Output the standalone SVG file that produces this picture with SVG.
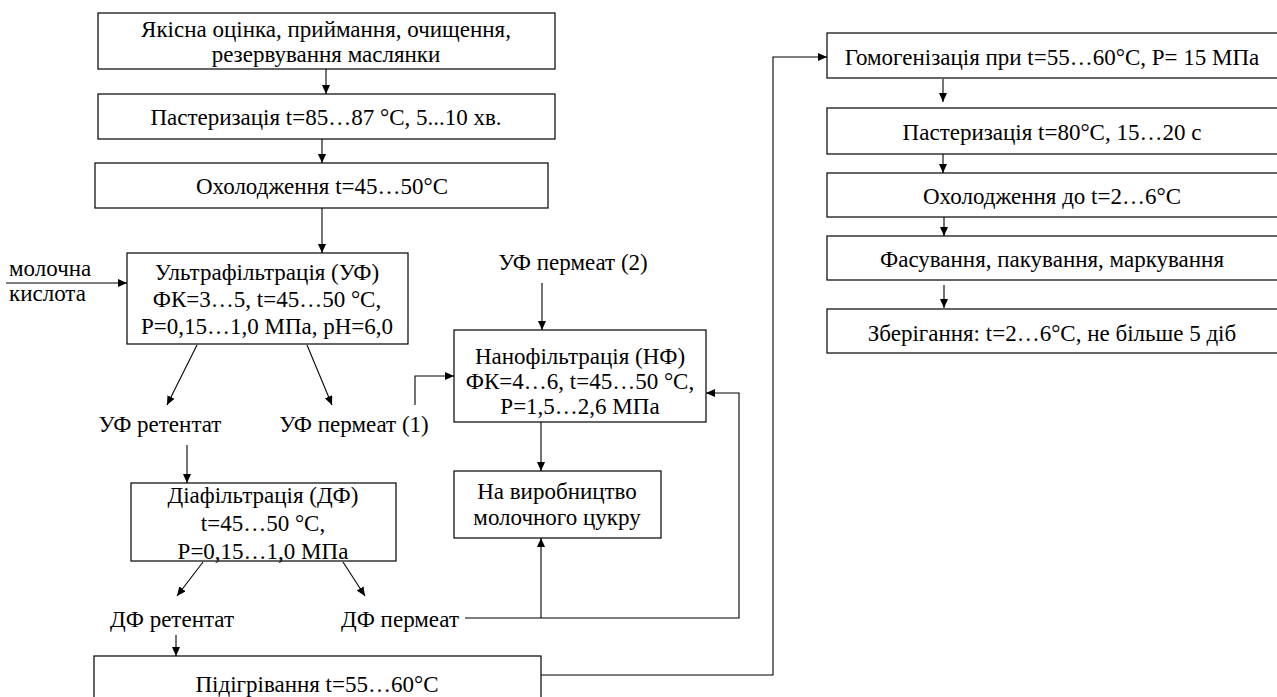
<svg xmlns="http://www.w3.org/2000/svg" width="1277" height="697" viewBox="0 0 1277 697" font-family="Times New Roman, Liberation Serif, serif">
<style>
.box{fill:#fff;stroke:#000;stroke-width:1.2}
text{font-family:"Times New Roman","Liberation Serif","Noto Serif","DejaVu Serif",serif;font-size:23px;fill:#000}
.c{text-anchor:middle}
.ln{fill:none;stroke:#000;stroke-width:1.1}
.ar{marker-end:url(#ah)}
</style>
<defs>
<marker id="ah" markerWidth="9" markerHeight="8" refX="9" refY="4" orient="auto" markerUnits="userSpaceOnUse"><path d="M0,0 L9,4 L0,8 z" fill="#000"/></marker>
</defs>
<rect width="1277" height="697" fill="#fff"/>
<g id="connectors">
<path class="ln ar" d="M326,69 V94"/>
<path class="ln ar" d="M322,139 V163"/>
<path class="ln ar" d="M322,208 V253"/>
<path class="ln ar" d="M6,283 H127"/>
<path class="ln ar" d="M197,345 L167,405"/>
<path class="ln ar" d="M307,345 L332,405"/>
<path class="ln ar" d="M415,405 V376 H454"/>
<path class="ln ar" d="M542,283 V330"/>
<path class="ln ar" d="M187,445 V483"/>
<path class="ln ar" d="M541,422 V471"/>
<path class="ln ar" d="M203,562 L177,596"/>
<path class="ln ar" d="M343,562 L365,596"/>
<path class="ln ar" d="M176,635 V656"/>
<path class="ln ar" d="M465,618 H739 V393 H706"/>
<path class="ln ar" d="M541,618 V538"/>
<path class="ln ar" d="M541,675 H773 V57 H827"/>
<path class="ln ar" d="M943,79 V102"/>
<path class="ln ar" d="M943,154 V173"/>
<path class="ln ar" d="M944,217 V236"/>
<path class="ln ar" d="M944,285 V308"/>
</g>
<g id="n1"><rect class="box" x="98" y="13" width="457" height="56"/><text class="c" x="326" y="37">Якісна оцінка, приймання,  очищення,</text><text class="c" x="326" y="62">резервування маслянки</text></g>
<g id="n2"><rect class="box" x="98" y="94" width="457" height="45"/><text class="c" x="326" y="125">Пастеризація t=85…87 °C, 5...10 хв.</text></g>
<g id="n3"><rect class="box" x="95" y="163" width="453" height="45"/><text class="c" x="322" y="194">Охолодження t=45…50°C</text></g>
<g id="in-acid"><text x="9" y="276">молочна</text><text x="9" y="301">кислота</text></g>
<g id="n4"><rect class="box" x="127" y="253" width="281" height="91"/><text class="c" x="267" y="280">Ультрафільтрація (УФ)</text><text class="c" x="267" y="307">ФК=3…5, t=45…50 °C,</text><text class="c" x="267" y="334">P=0,15…1,0 МПа, pH=6,0</text></g>
<g id="l-uf-ret"><text class="c" x="160" y="432">УФ ретентат</text></g>
<g id="l-uf-perm1"><text class="c" x="354" y="432">УФ пермеат  (1)</text></g>
<g id="l-uf-perm2"><text class="c" x="573" y="270">УФ пермеат  (2)</text></g>
<g id="n5"><rect class="box" x="454" y="330" width="252" height="92"/><text class="c" x="580" y="364">Нанофільтрація (НФ)</text><text class="c" x="580" y="389">ФК=4…6, t=45…50 °C,</text><text class="c" x="580" y="414">P=1,5…2,6 МПа</text></g>
<g id="n6"><rect class="box" x="454" y="471" width="207" height="67"/><text class="c" x="557" y="499">На виробництво</text><text class="c" x="557" y="525">молочного цукру</text></g>
<g id="n7"><rect class="box" x="131" y="483" width="265" height="78"/><text class="c" x="263" y="503">Діафільтрація (ДФ)</text><text class="c" x="263" y="531">t=45…50 °C,</text><text class="c" x="263" y="559">P=0,15…1,0 МПа</text></g>
<g id="l-df-ret"><text class="c" x="172" y="627">ДФ ретентат</text></g>
<g id="l-df-perm"><text class="c" x="400" y="627">ДФ пермеат</text></g>
<g id="n8"><rect class="box" x="94" y="656" width="447" height="60"/><text class="c" x="317" y="692">Підігрівання t=55…60°C</text></g>
<g id="n9"><rect class="box" x="827" y="33" width="470" height="45"/><text class="c" x="1052" y="65">Гомогенізація при t=55…60°C, P= 15 МПа</text></g>
<g id="n10"><rect class="box" x="827" y="108" width="470" height="46"/><text class="c" x="1052" y="140">Пастеризація t=80°C, 15…20 с</text></g>
<g id="n11"><rect class="box" x="827" y="173" width="470" height="44"/><text class="c" x="1052" y="204">Охолодження до t=2…6°C</text></g>
<g id="n12"><rect class="box" x="827" y="236" width="470" height="44"/><text class="c" x="1052" y="267">Фасування, пакування, маркування</text></g>
<g id="n13"><rect class="box" x="827" y="309" width="470" height="44"/><text class="c" x="1052" y="341">Зберігання: t=2…6°C, не більше 5 діб</text></g>
</svg>
